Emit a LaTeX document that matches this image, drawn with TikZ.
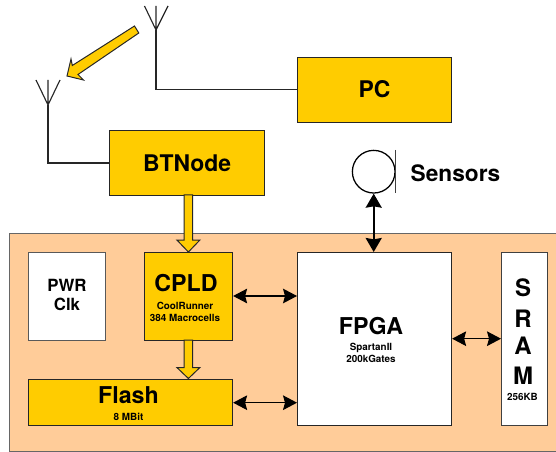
\documentclass[tikz,border=0pt]{standalone}
\usepackage{fontspec}
\setmainfont{TeX Gyre Heros}
\usetikzlibrary{arrows.meta,calc}
\definecolor{gold}{HTML}{FFCC00}
\definecolor{board}{HTML}{FFCC99}
\newcommand{\fs}[1]{\fontsize{#1}{#1}\selectfont\bfseries}
\tikzset{
  x=0.75pt,y=-0.75pt,
  boxbase/.style={draw=black!85,line width=0.85pt,inner sep=0pt,anchor=north west},
  goldbox/.style={boxbase,fill=gold},
  whitebox/.style={boxbase,fill=white},
  wire/.style={draw=black!85,line width=0.85pt},
  twoway/.style={draw=black,line width=0.8pt,{Stealth[length=10.5pt,width=11pt,inset=1.5pt]}-{Stealth[length=10.5pt,width=11pt,inset=1.5pt]}},
  upright/.style={draw=black,line width=1.5pt,{Stealth[length=10.5pt,width=12pt,inset=1pt]}-{Stealth[length=10.5pt,width=12pt,inset=1pt]}},
  blockarrow/.style={draw=black!85,line width=0.75pt,fill=gold,line join=miter},
  title/.style={font=\fs{17.4},inner sep=0pt},
  small/.style={font=\fs{7.4},inner sep=0pt},
  sramletter/.style={font=\fs{18},inner sep=0pt},
}
\begin{document}
\begin{tikzpicture}
\useasboundingbox (0,0) rectangle (556,452);
% board
\node[boxbase,fill=board,draw=black!60,line width=0.6pt,minimum width=412.5pt,minimum height=163.5pt] (boardbox) at (9,233) {};
% boxes
\node[goldbox,minimum width=115.5pt,minimum height=48.5pt,font=\fs{17.2}] (pc) at (297,57) {\raisebox{0.8pt}{PC}};
\node[goldbox,minimum width=116.25pt,minimum height=48.75pt,font=\fs{17.2}] (bt) at (109,130) {BTNode};
\node[whitebox,draw=black!65,minimum width=58pt,minimum height=66pt] (pwr) at (28,252) {};
\node[goldbox,minimum width=66pt,minimum height=66pt] (cpld) at (144,252) {};
\node[goldbox,minimum width=153pt,minimum height=35pt] (flash) at (28,378.5) {};
\node[whitebox,minimum width=115.5pt,minimum height=129.75pt] (fpga) at (297,252) {};
\node[whitebox,draw=black!75,minimum width=34.5pt,minimum height=129.75pt] (sram) at (501,252) {};
% sensor
\node[draw=black,fill=white,circle,line width=0.95pt,minimum size=32pt,inner sep=0pt] (sens) at (373.7,171.7) {};
\coordinate (barT) at (395,150);
\coordinate (barB) at (395,193);
\draw[draw=black!75,line width=0.75pt] (barT) -- (barB);
% antennas
\coordinate (ant1) at (156,30);
\coordinate (ant1t) at (156,6);
\coordinate (ant1l) at (144.5,6);
\coordinate (ant1r) at (168,6);
\coordinate (ant2) at (48,105);
\coordinate (ant2t) at (48,80);
\coordinate (ant2l) at (36,80);
\coordinate (ant2r) at (60,80);
\draw[wire] (ant1l) -- (ant1) -- (ant1r) (ant1t) -- (ant1);
\draw[wire] (ant2l) -- (ant2) -- (ant2r) (ant2t) -- (ant2);
\draw[wire] (ant1) |- (pc.west);
\draw[wire] (ant2) |- (bt.west);
% wireless arrow
\draw[blockarrow] (134.5,26) -- (138.8,33) -- (78,74.5) -- (83.5,80) -- (67,76) -- (71,59) -- (72.3,65.5) -- cycle;
% block arrows
\coordinate (a1tip) at (188.4,252);
\coordinate (a2tip) at (188.4,378.5);
\draw[blockarrow] (a1tip) -- ++(11.5,-12) -- ++(-7.2,0) -- (192.7,195) -- (184.1,195) -- (184.1,240) -- ++(-7.2,0) -- cycle;
\draw[blockarrow] (a2tip) -- ++(11.5,-11) -- ++(-7.2,0) -- (192.7,340) -- (184.1,340) -- (184.1,367.5) -- ++(-7.2,0) -- cycle;
% double arrows
\draw[upright] (sens.south) -- (sens.south |- fpga.north);
\coordinate (c1) at (232,296);
\draw[twoway] (cpld.east |- c1) -- (fpga.west |- c1);
\coordinate (c2) at (232,402.7);
\draw[twoway] (flash.east |- c2) -- (fpga.west |- c2);
\coordinate (c3) at (451,338.7);
\draw[twoway] (fpga.east |- c3) -- (sram.west |- c3);
% labels
\node[font=\fs{17},inner sep=0pt] (tsens) at (455.5,173) {Sensors};
\node[font=\fs{12.6},inner sep=0pt,align=center] (tpwr) at (67,295) {PWR\\[2pt]Clk};
\node[title] (tcpld) at (186,283) {CPLD};
\node[small,align=center] (tcpld2) at (185,312) {CoolRunner\\[1.5pt]384 Macrocells};
\node[title] (tflash) at (128.5,395) {Flash};
\node[small] (tflash2) at (128.5,416.5) {8 MBit};
\node[title] (tfpga) at (371,326) {FPGA};
\node[small,align=center] (tfpga2) at (371,353) {SpartanII\\[1.5pt]200kGates};
\node[sramletter] (s1) at (523,288) {S};
\node[sramletter] (s2) at (523,319) {R};
\node[sramletter] (s3) at (523,346) {A};
\node[sramletter] (s4) at (523,376) {M};
\node[small] (s5) at (522.5,397) {256KB};
\end{tikzpicture}
\end{document}
